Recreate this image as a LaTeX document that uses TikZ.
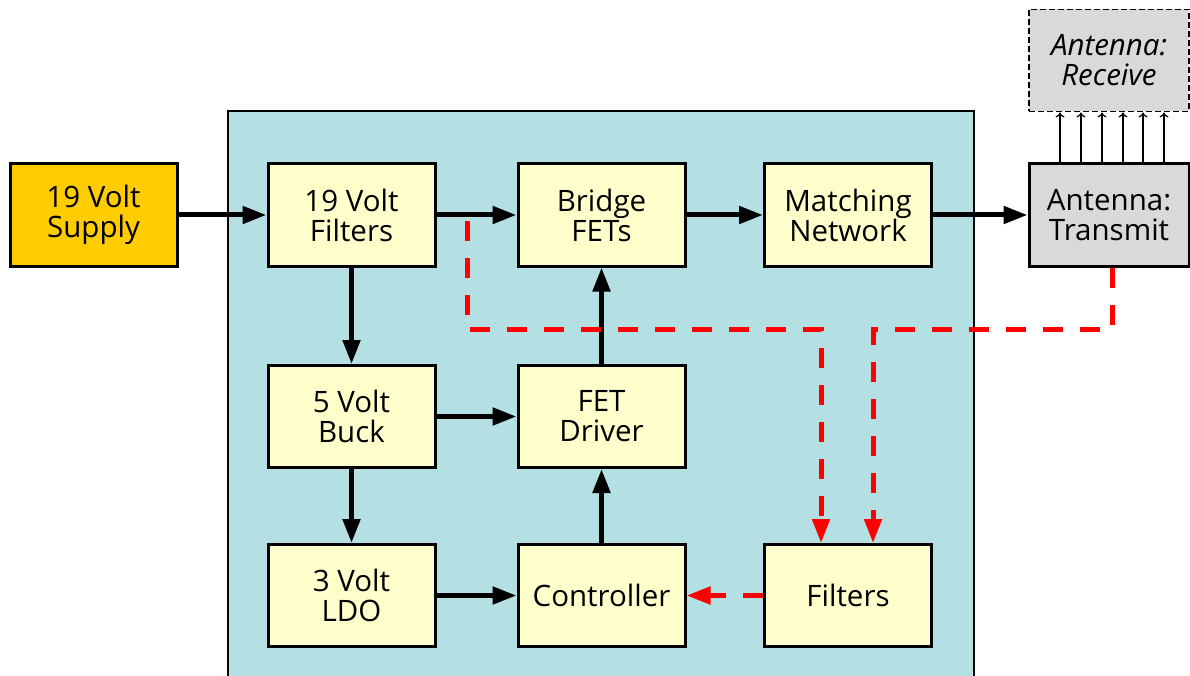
\documentclass[tikz,border=0pt]{standalone}
\usepackage{fontspec}
\setmainfont{Open Sans}
\usetikzlibrary{arrows.meta}
\definecolor{panel}{HTML}{B4DFE3}
\definecolor{boxfill}{HTML}{FFFFCC}
\definecolor{supply}{HTML}{FFCC00}
\definecolor{antgrey}{HTML}{D9D9D9}
\definecolor{sigred}{HTML}{FF0000}
\tikzset{
  blk/.style={draw=black, line width=3pt, fill=boxfill, minimum width=167pt, minimum height=102pt,
    inner sep=0pt, align=center, font=\fontsize{29.5}{30}\selectfont},
  pow/.style={->, line width=5pt, >={Triangle[length=24pt,width=17pt]}},
  sig/.style={->, draw=sigred, line width=5pt, dash pattern=on 20pt off 17pt, >={Triangle[length=24pt,width=17pt]}},
  rx/.style={->, line width=1.2pt, >={To[length=5pt,width=9pt]}},
}
\begin{document}
\begin{tikzpicture}[x=1pt,y=-1pt]
\useasboundingbox (0,0) rectangle (1190,676);
\fill[white] (0,0) rectangle (1190,676);
\draw[fill=panel, line width=1.2pt] (228,111) rectangle (974,690);
\node[blk, fill=supply] (sup) at (93.5,215) {19 Volt\\Supply};
\node[blk] (f19) at (351.5,215) {19 Volt\\Filters};
\node[blk] (fet) at (601.5,215) {Bridge\\FETs};
\node[blk] (mat) at (848,215) {Matching\\Network};
\node[blk, fill=antgrey, minimum width=160pt] (tx) at (1109,215) {Antenna:\\Transmit};
\node[blk, fill=antgrey, minimum width=160pt, dashed, line width=1.8pt, dash pattern=on 6pt off 3pt, font=\fontsize{29.5}{30}\selectfont\itshape] (rxb) at (1109,60.5) {Antenna:\\Receive};
\node[blk] (buck) at (351.5,416.5) {5 Volt\\Buck};
\node[blk] (drv) at (601.5,416.5) {FET\\Driver};
\node[blk] (ldo) at (351.5,595.5) {3 Volt\\LDO};
\node[blk] (ctl) at (601.5,595.5) {Controller};
\node[blk] (fil) at (848,595.5) {Filters};
% power arrows
\draw[pow] (sup.east) -- (f19.west);
\draw[pow] (f19.east) -- (fet.west);
\draw[pow] (fet.east) -- (mat.west);
\draw[pow] (mat.east) -- (tx.west);
\draw[pow] (f19.south) -- (buck.north);
\draw[pow] (buck.east) -- (drv.west);
\draw[pow] (buck.south) -- (ldo.north);
\draw[pow] (ldo.east) -- (ctl.west);
\draw[pow] (ctl.north) -- (drv.south);
\draw[pow] (drv.north) -- (fet.south);
% receive arrows
\foreach \x in {1060,1081,1102,1123,1143,1164}
  \draw[rx] (tx.north -| \x,0) -- (rxb.south -| \x,0);
% red signal paths
\coordinate (s1) at (467,221);
\draw[sig] (s1) -- (467,329) -- (821,329) -- (fil.north -| 821,0);
\draw[sig] (tx.south -| 1112,0) -- (1112,329) -- (873,329) -- (fil.north -| 873,0);
\draw[sig] (fil.west) -- (ctl.east);
\end{tikzpicture}
\end{document}
